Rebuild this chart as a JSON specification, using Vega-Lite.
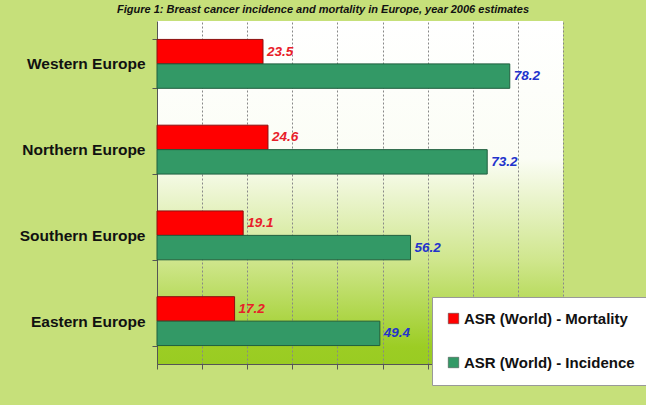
{
  "$schema": "https://vega.github.io/schema/vega-lite/v6.json",
  "width": 406,
  "height": 343,
  "autosize": {"type": "none"},
  "padding": {"left": 157, "top": 21, "right": 83, "bottom": 41},
  "background": "#c6e07a",
  "title": {
    "text": "Figure 1: Breast cancer incidence and mortality in Europe, year 2006 estimates",
    "font": "Liberation Sans",
    "fontSize": 11,
    "fontWeight": "bold",
    "fontStyle": "italic",
    "color": "#111111",
    "offset": 2,
    "dy": 3,
    "dx": -37,
    "anchor": "middle"
  },
  "config": {
    "view": {
      "stroke": null,
      "fill": {
        "gradient": "linear",
        "x1": 0, "y1": 0, "x2": 0, "y2": 1,
        "stops": [
          {"offset": 0, "color": "#ffffff"},
          {"offset": 0.4, "color": "#fbfdf5"},
          {"offset": 0.7, "color": "#cfe68c"},
          {"offset": 0.95, "color": "#9ccd24"},
          {"offset": 1, "color": "#99cc22"}
        ]
      }
    },
    "font": "Liberation Sans"
  },
  "data": {
    "values": [
      {"region": "Western Europe", "series": "ASR (World) - Mortality", "value": 23.5},
      {"region": "Western Europe", "series": "ASR (World) - Incidence", "value": 78.2},
      {"region": "Northern Europe", "series": "ASR (World) - Mortality", "value": 24.6},
      {"region": "Northern Europe", "series": "ASR (World) - Incidence", "value": 73.2},
      {"region": "Southern Europe", "series": "ASR (World) - Mortality", "value": 19.1},
      {"region": "Southern Europe", "series": "ASR (World) - Incidence", "value": 56.2},
      {"region": "Eastern Europe", "series": "ASR (World) - Mortality", "value": 17.2},
      {"region": "Eastern Europe", "series": "ASR (World) - Incidence", "value": 49.4}
    ]
  },
  "encoding": {
    "y": {
      "field": "region",
      "type": "nominal",
      "sort": ["Western Europe", "Northern Europe", "Southern Europe", "Eastern Europe"],
      "scale": {"paddingInner": 0.43, "paddingOuter": 0.215},
      "axis": {
        "title": null,
        "labelFont": "Liberation Sans",
        "labelFontSize": 15.5,
        "labelFontWeight": "bold",
        "labelColor": "#111111",
        "labelPadding": 7,
        "tickBand": "extent",
        "tickSize": 5,
        "tickColor": "#555555",
        "domainColor": "#555555",
        "grid": false
      }
    },
    "yOffset": {
      "field": "series",
      "type": "nominal",
      "sort": ["ASR (World) - Mortality", "ASR (World) - Incidence"]
    },
    "x": {
      "field": "value",
      "type": "quantitative",
      "scale": {"domain": [0, 90], "nice": false},
      "axis": {
        "title": null,
        "labels": false,
        "values": [0, 10, 20, 30, 40, 50, 60, 70, 80, 90],
        "grid": true,
        "gridDash": [2, 2],
        "gridColor": "#888888",
        "gridWidth": 1,
        "tickSize": 5,
        "tickColor": "#555555",
        "domainColor": "#555555"
      }
    }
  },
  "layer": [
    {
      "mark": {"type": "bar", "strokeWidth": 1},
      "encoding": {
        "color": {
          "field": "series",
          "type": "nominal",
          "scale": {
            "domain": ["ASR (World) - Mortality", "ASR (World) - Incidence"],
            "range": ["#ff0000", "#339966"]
          },
          "legend": {
            "title": null,
            "orient": "none",
            "legendX": 275,
            "legendY": 276,
            "direction": "vertical",
            "fillColor": "#ffffff",
            "strokeColor": "#999999",
            "padding": 14,
            "rowPadding": 28,
            "symbolType": "square",
            "symbolSize": 110,
            "symbolStrokeColor": "#444444",
            "symbolStrokeWidth": 0.5,
            "labelFont": "Liberation Sans",
            "labelFontSize": 15,
            "labelFontWeight": "bold",
            "labelColor": "#111111",
            "labelLimit": 300,
            "labelOffset": 3
          }
        },
        "stroke": {
          "condition": {"test": "datum.series === 'ASR (World) - Mortality'", "value": "#8b1010"},
          "value": "#1f5e3e"
        }
      }
    },
    {
      "mark": {
        "type": "text",
        "align": "left",
        "baseline": "middle",
        "dx": 4,
        "font": "Liberation Sans",
        "fontSize": 13.5,
        "fontWeight": "bold",
        "fontStyle": "italic"
      },
      "encoding": {
        "text": {"field": "value", "type": "quantitative", "format": ".1f"},
        "fill": {
          "condition": {"test": "datum.series === 'ASR (World) - Mortality'", "value": "#e8202a"},
          "value": "#2233cc"
        }
      }
    }
  ]
}
